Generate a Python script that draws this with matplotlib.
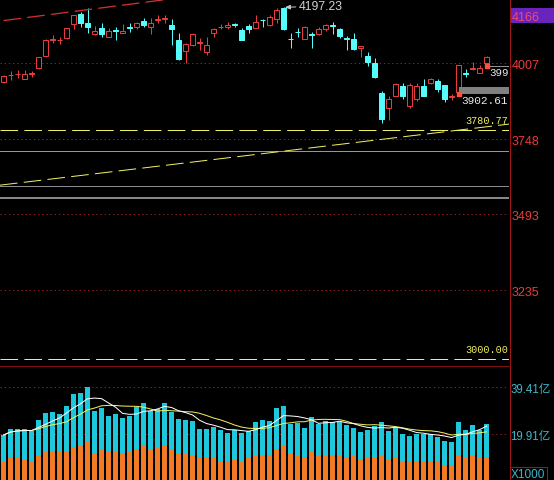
import matplotlib
matplotlib.use('Agg')
import matplotlib.pyplot as plt
import numpy as np
import pandas as pd
from matplotlib.patches import Rectangle
from matplotlib.lines import Line2D

plt.rcParams['lines.scale_dashes'] = False
plt.rcParams['font.family'] = ['Liberation Sans', 'Noto Sans CJK SC', 'DejaVu Sans']

# ---------------- data ----------------
opens = [3943, 3966, 3969, 3955, 3972, 3990, 4032, 4088, 4085, 4092,
         4141, 4175, 4143, 4108, 4128, 4098, 4119, 4110, 4129, 4130,
         4150, 4130, 4155, 4158, 4136, 4085, 4049, 4069, 4076, 4045,
         4109, 4131, 4130, 4141, 4119, 4134, 4128, 4155, 4136, 4159,
         4196, 4091, 4114, 4091, 4106, 4106, 4125, 4137, 4123, 4093,
         4089, 4058, 4032, 4007, 3907, 3855, 3896, 3928, 3860, 3885,
         3928, 3941, 3947, 3932, 3893, 3909, 3974, 3988, 3975, 4009]
closes = [3964, 3967, 3970, 3970, 3973, 4027, 4088, 4089, 4086, 4126,
          4171, 4143, 4130, 4117, 4107, 4118, 4117, 4118, 4128, 4143,
          4136, 4143, 4157, 4160, 4123, 4021, 4072, 4106, 4078, 4068,
          4125, 4132, 4137, 4139, 4086, 4123, 4149, 4153, 4166, 4187,
          4125, 4089, 4113, 4130, 4104, 4125, 4136, 4135, 4100, 4091,
          4057, 4066, 4013, 3962, 3819, 3885, 3936, 3894, 3932, 3928,
          3896, 3953, 3921, 3885, 3895, 4000, 3972, 3990, 3992, 4030]
highs = [3968, 3981, 3984, 3983, 3982, 4029, 4089, 4102, 4098, 4127,
         4173, 4183, 4194, 4134, 4143, 4128, 4132, 4140, 4145, 4147,
         4162, 4162, 4173, 4173, 4157, 4109, 4077, 4109, 4092, 4098,
         4126, 4140, 4147, 4145, 4128, 4140, 4170, 4157, 4173, 4196,
         4197.23, 4109, 4128, 4134, 4113, 4130, 4142, 4147, 4128, 4100,
         4111, 4067, 4045, 4026, 3913, 3896, 3939, 3941, 3939, 3941,
         3955, 3958, 3955, 3932, 3904, 4001, 3987, 4013, 4000, 4031]
lows = [3939, 3950, 3958, 3952, 3960, 3987, 4030, 4075, 4072, 4089,
        4123, 4129, 4111, 4102, 4098, 4097, 4086, 4109, 4113, 4123,
        4132, 4106, 4143, 4145, 4069, 4017, 4009, 4066, 4052, 4035,
        4098, 4123, 4125, 4132, 4085, 4109, 4126, 4132, 4134, 4143,
        4120, 4058, 4096, 4089, 4058, 4102, 4117, 4106, 4092, 4052,
        4052, 4030, 3998, 3958, 3805, 3814, 3894, 3885, 3856, 3879,
        3894, 3936, 3909, 3875, 3882, 3902.61, 3962, 3984, 3973, 3998]

# volume (亿) : total bar height and lower (orange) part
vol_total = [19.50, 22.01, 22.01, 22.01, 21.30, 25.77, 28.69, 28.98, 28.27, 31.74,
             36.62, 37.04, 39.55, 29.65, 30.65, 27.56, 28.27, 26.60, 27.56, 31.32,
             32.99, 29.65, 30.36, 32.99, 28.98, 26.18, 25.77, 25.47, 22.01, 22.01,
             22.72, 21.59, 20.34, 21.72, 20.34, 21.30, 24.81, 25.77, 25.22, 30.65,
             31.61, 24.10, 24.51, 22.30, 26.89, 24.10, 25.35, 25.06, 24.81, 23.68,
             22.30, 20.88, 21.72, 23.39, 24.81, 21.30, 22.30, 19.92, 19.21, 19.92,
             19.92, 19.92, 18.54, 17.12, 16.70, 24.81, 21.72, 23.68, 21.72, 24.10]
vol_lower = [8.35, 9.77, 9.77, 9.06, 8.77, 11.28, 12.28, 12.28, 12.28, 12.95,
             14.37, 15.33, 16.70, 11.99, 13.66, 12.53, 12.28, 11.99, 12.53, 13.66,
             14.78, 13.36, 13.95, 15.33, 13.66, 11.99, 11.57, 11.15, 10.19, 9.77,
             9.77, 8.77, 8.35, 9.48, 8.77, 9.77, 10.86, 11.15, 11.15, 13.66,
             14.78, 11.57, 11.15, 10.19, 12.53, 11.15, 10.86, 11.15, 10.86, 10.19,
             10.86, 9.48, 9.77, 9.77, 10.86, 9.48, 10.19, 8.35, 8.10, 8.35,
             8.77, 8.77, 8.10, 6.97, 6.97, 11.15, 9.77, 10.86, 9.77, 10.44]

price_ticks = [4007, 3748, 3493, 3235]
price_tick_labels = ['4007', '3748', '3493', '3235']
top_price_label = 4166
vol_ticks = [39.41, 19.91]
vol_tick_labels = ['39.41亿', '19.91亿']
unit_label = 'X1000'

high_mark_idx = 40
support_level = 3780.77
base_level = 3000.00
low_mark_idx = 65
last_idx = 69

# drawn trend lines (index, price)
red_trend_x = [0, 40]
red_trend_y = [4152.4, 4276.0]
yellow_trend_x = [-0.5, 72.2]
yellow_trend_y = [3592.0, 3800.0]
gray_levels = [3707, 3588, 3547]
gray_colors = ['#969696', '#8c8c8c', '#b4b4b4']
gray_widths = [1.0, 1.0, 1.5]

# ---------------- style ----------------
W, H, DPI = 554, 481, 100
UP = '#E83C3C'
DOWN = '#54FCFC'
VOL_TOP = '#1EC8DC'
VOL_LOW = '#F27A24'
GRID = '#8C1E1E'
AXLINE = '#A01414'
YEL = '#F0F060'
PX = 72.0 / DPI  # one pixel in points

fig = plt.figure(figsize=(W / DPI, H / DPI), dpi=DPI, facecolor='black')
axw = 509 / W
ax = fig.add_axes([0, 1 - 366 / H, axw, 366 / H], facecolor='black')
axv = fig.add_axes([0, 0, axw, (481 - 367) / H], facecolor='black')

n = len(opens)
x = np.arange(n)
o = np.array(opens, float); c = np.array(closes, float)
h = np.array(highs, float); l = np.array(lows, float)
up = c >= o

# ----- candles -----
for i in range(n):
    col = UP if up[i] else DOWN
    top, bot = max(o[i], c[i]), min(o[i], c[i])
    if up[i]:
        ax.vlines(x[i], top, h[i], color=col, lw=PX)
        ax.vlines(x[i], l[i], bot, color=col, lw=PX)
        ax.bar(x[i], max(top - bot, 0.3), bottom=bot, width=0.6,
               facecolor='black', edgecolor=col, lw=PX, zorder=3)
    else:
        ax.vlines(x[i], l[i], h[i], color=col, lw=PX)
        ax.bar(x[i], max(top - bot, 0.3), bottom=bot, width=0.6,
               facecolor=col, edgecolor=col, lw=PX, zorder=3)

ax.set_xlim(-0.5, 72.21)
ax.set_ylim(2979.7, 4225.9)

# grid
for t in price_ticks:
    ax.axhline(t, color=GRID, lw=PX, ls=(0, (1, 2)), zorder=0)

# horizontal gray lines
for lv, cc, ww in zip(gray_levels, gray_colors, gray_widths):
    ax.axhline(lv, color=cc, lw=ww * PX, zorder=1)

dash = (0, (12.7, 4.5))
ax.axhline(support_level, color=YEL, lw=PX, ls=dash, zorder=2)
ax.axhline(base_level, color=YEL, lw=PX, ls=dash, zorder=2)
ax.plot(yellow_trend_x, yellow_trend_y, color=YEL, lw=PX, ls=dash, zorder=2)
ax.plot(red_trend_x, red_trend_y, color='#D03030', lw=1.3 * PX, ls=dash, zorder=2)

mono = 'Liberation Mono'
ax.annotate(f'{support_level:.2f}', xy=(1.0, support_level),
            xycoords=('axes fraction', 'data'), xytext=(-1, 10),
            textcoords='offset pixels', ha='right', va='center',
            color=YEL, fontsize=7.3, family=mono)
ax.annotate(f'{base_level:.2f}', xy=(1.0, base_level),
            xycoords=('axes fraction', 'data'), xytext=(-1, 10.5),
            textcoords='offset pixels', ha='right', va='center',
            color=YEL, fontsize=7.3, family=mono)

# high annotation
ax.annotate(f'{h[high_mark_idx]:.2f}', xy=(high_mark_idx, h[high_mark_idx]),
            xytext=(15, 1.5), textcoords='offset pixels', ha='left', va='center',
            color='#D0D0D0', fontsize=8.8,
            arrowprops=dict(arrowstyle='-|>,head_length=0.35,head_width=0.15',
                            color='#C8C8C8', lw=PX, shrinkA=0, shrinkB=1))

# low marks
ax.add_patch(Rectangle((low_mark_idx, l[low_mark_idx] + 1), 72.21 - low_mark_idx, 23,
                       facecolor='#808080', edgecolor='none', zorder=4))
ax.annotate(f'{l[low_mark_idx]:.2f}', xy=(low_mark_idx, l[low_mark_idx]),
            xytext=(3, -6), textcoords='offset pixels', ha='left', va='center',
            color='#E8E8E8', fontsize=8.0, family=mono)
ax.plot([last_idx + 0.2, 72.21], [l[last_idx] - 1, l[last_idx] - 1],
        color='#909090', lw=PX, zorder=4)
ax.annotate(f'{l[last_idx]:.0f}'[:3], xy=(last_idx, l[last_idx]),
            xytext=(2.5, -6.5), textcoords='offset pixels', ha='left', va='center',
            color='#E8E8E8', fontsize=7.8, family=mono)
ax.plot([low_mark_idx, last_idx], [l[low_mark_idx], l[last_idx]], ls='none',
        marker='s', ms=2.2, color='#FF5040', zorder=5)

# right axis labels
ax.set_yticks(price_ticks)
ax.set_yticklabels(price_tick_labels)
ax.yaxis.tick_right()
ax.tick_params(axis='y', length=0, pad=2.2, labelcolor=UP, labelsize=9)
ax.set_xticks([])
for s in ax.spines.values():
    s.set_visible(False)

ax.add_patch(Rectangle((1.002, 4144), 0.088, 51, transform=ax.get_yaxis_transform(),
                       facecolor='#6A24BE', edgecolor='none', clip_on=False, zorder=5))
ax.text(1.0 + 2.5 / 509, top_price_label, str(top_price_label),
        transform=ax.get_yaxis_transform(), ha='left', va='center',
        color='#F04A70', fontsize=9, clip_on=False, zorder=6)

# ----- volume -----
vt = np.array(vol_total); vl = np.array(vol_lower)
axv.bar(x, vt, width=0.72, color=VOL_TOP, lw=0)
axv.bar(x, vl, width=0.72, color=VOL_LOW, lw=0)
ma5 = pd.Series(vt).rolling(5, min_periods=1).mean()
ma10 = pd.Series(vt).rolling(10, min_periods=1).mean()
axv.plot(x, ma10, color=YEL, lw=PX)
axv.plot(x, ma5, color='white', lw=PX)
axv.set_xlim(-0.5, 72.21)
axv.set_ylim(0.71, 48.32)
for t in vol_ticks:
    axv.axhline(t, color=GRID, lw=PX, ls=(0, (1, 2)), zorder=0)
axv.set_yticks(vol_ticks)
axv.set_yticklabels(vol_tick_labels)
axv.yaxis.tick_right()
axv.tick_params(axis='y', length=0, pad=1.2, labelcolor='#3CB8CC', labelsize=8.3)
axv.set_xticks([])
for s in axv.spines.values():
    s.set_visible(False)

# frame lines
fig.add_artist(Line2D([509.5 / W, 509.5 / W], [0, 1], color=AXLINE, lw=PX))
fig.add_artist(Line2D([0, 509.5 / W], [1 - 366.7 / H, 1 - 366.7 / H], color='#801010', lw=PX))
fig.add_artist(Rectangle((509.5 / W, 0.2 / H), 37.5 / W, 13 / H, transform=fig.transFigure,
                         facecolor='none', edgecolor=AXLINE, lw=PX))
fig.text(528 / W, 1 - 475 / H, unit_label, ha='center', va='center',
         color='#3CB8CC', fontsize=8.5)

fig.savefig('out.png', dpi=DPI, facecolor='black')
